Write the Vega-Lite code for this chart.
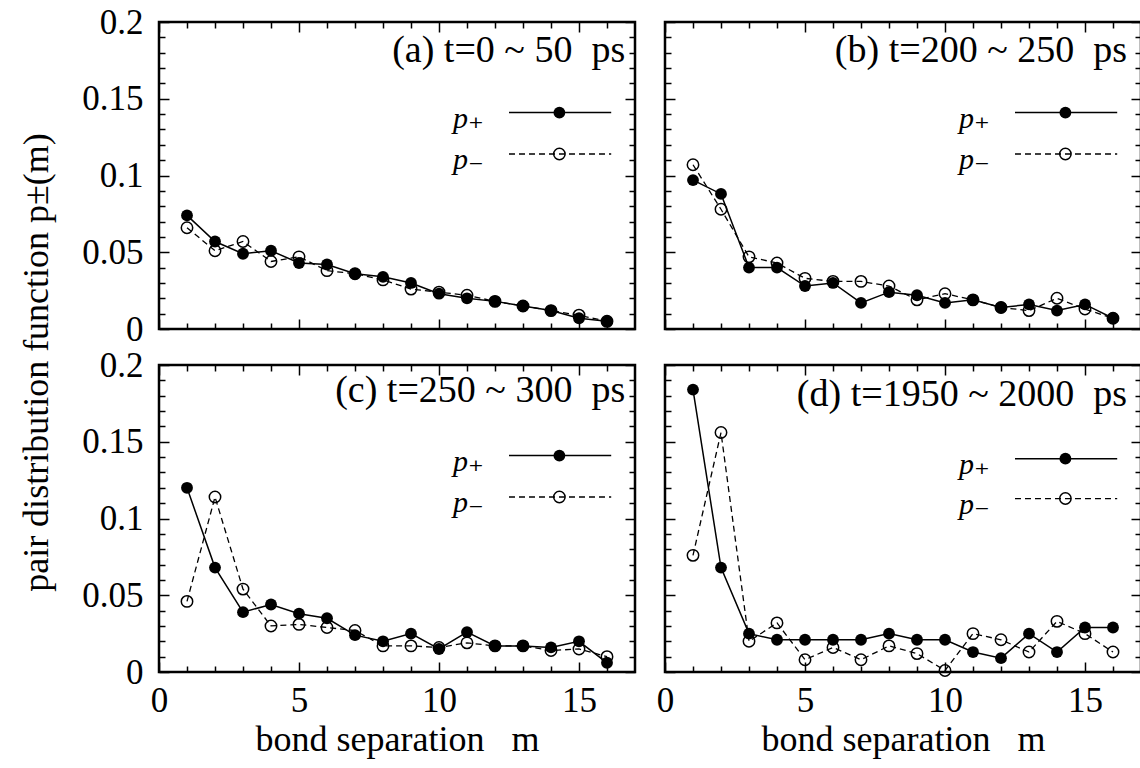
{
  "$schema": "https://vega.github.io/schema/vega-lite/v6.json",
  "padding": {"left": 16, "top": 3, "right": 0, "bottom": 0},
  "background": "white",
  "datasets": {
    "pdf": [
      {"panel":"a","m":1,"s":"+","p":0.074},{"panel":"a","m":2,"s":"+","p":0.057},{"panel":"a","m":3,"s":"+","p":0.049},{"panel":"a","m":4,"s":"+","p":0.051},
      {"panel":"a","m":5,"s":"+","p":0.043},{"panel":"a","m":6,"s":"+","p":0.042},{"panel":"a","m":7,"s":"+","p":0.036},{"panel":"a","m":8,"s":"+","p":0.034},
      {"panel":"a","m":9,"s":"+","p":0.030},{"panel":"a","m":10,"s":"+","p":0.023},{"panel":"a","m":11,"s":"+","p":0.020},{"panel":"a","m":12,"s":"+","p":0.018},
      {"panel":"a","m":13,"s":"+","p":0.015},{"panel":"a","m":14,"s":"+","p":0.012},{"panel":"a","m":15,"s":"+","p":0.007},{"panel":"a","m":16,"s":"+","p":0.005},
      {"panel":"a","m":1,"s":"-","p":0.066},{"panel":"a","m":2,"s":"-","p":0.051},{"panel":"a","m":3,"s":"-","p":0.057},{"panel":"a","m":4,"s":"-","p":0.044},
      {"panel":"a","m":5,"s":"-","p":0.047},{"panel":"a","m":6,"s":"-","p":0.038},{"panel":"a","m":7,"s":"-","p":0.036},{"panel":"a","m":8,"s":"-","p":0.032},
      {"panel":"a","m":9,"s":"-","p":0.026},{"panel":"a","m":10,"s":"-","p":0.024},{"panel":"a","m":11,"s":"-","p":0.022},{"panel":"a","m":12,"s":"-","p":0.018},
      {"panel":"a","m":13,"s":"-","p":0.015},{"panel":"a","m":14,"s":"-","p":0.012},{"panel":"a","m":15,"s":"-","p":0.009},{"panel":"a","m":16,"s":"-","p":0.005},
      {"panel":"b","m":1,"s":"+","p":0.097},{"panel":"b","m":2,"s":"+","p":0.088},{"panel":"b","m":3,"s":"+","p":0.040},{"panel":"b","m":4,"s":"+","p":0.040},
      {"panel":"b","m":5,"s":"+","p":0.028},{"panel":"b","m":6,"s":"+","p":0.030},{"panel":"b","m":7,"s":"+","p":0.017},{"panel":"b","m":8,"s":"+","p":0.024},
      {"panel":"b","m":9,"s":"+","p":0.022},{"panel":"b","m":10,"s":"+","p":0.017},{"panel":"b","m":11,"s":"+","p":0.019},{"panel":"b","m":12,"s":"+","p":0.014},
      {"panel":"b","m":13,"s":"+","p":0.016},{"panel":"b","m":14,"s":"+","p":0.012},{"panel":"b","m":15,"s":"+","p":0.016},{"panel":"b","m":16,"s":"+","p":0.007},
      {"panel":"b","m":1,"s":"-","p":0.107},{"panel":"b","m":2,"s":"-","p":0.078},{"panel":"b","m":3,"s":"-","p":0.047},{"panel":"b","m":4,"s":"-","p":0.043},
      {"panel":"b","m":5,"s":"-","p":0.033},{"panel":"b","m":6,"s":"-","p":0.031},{"panel":"b","m":7,"s":"-","p":0.031},{"panel":"b","m":8,"s":"-","p":0.028},
      {"panel":"b","m":9,"s":"-","p":0.019},{"panel":"b","m":10,"s":"-","p":0.023},{"panel":"b","m":11,"s":"-","p":0.019},{"panel":"b","m":12,"s":"-","p":0.014},
      {"panel":"b","m":13,"s":"-","p":0.012},{"panel":"b","m":14,"s":"-","p":0.020},{"panel":"b","m":15,"s":"-","p":0.013},{"panel":"b","m":16,"s":"-","p":0.007},
      {"panel":"c","m":1,"s":"+","p":0.120},{"panel":"c","m":2,"s":"+","p":0.068},{"panel":"c","m":3,"s":"+","p":0.039},{"panel":"c","m":4,"s":"+","p":0.044},
      {"panel":"c","m":5,"s":"+","p":0.038},{"panel":"c","m":6,"s":"+","p":0.035},{"panel":"c","m":7,"s":"+","p":0.024},{"panel":"c","m":8,"s":"+","p":0.020},
      {"panel":"c","m":9,"s":"+","p":0.025},{"panel":"c","m":10,"s":"+","p":0.015},{"panel":"c","m":11,"s":"+","p":0.026},{"panel":"c","m":12,"s":"+","p":0.017},
      {"panel":"c","m":13,"s":"+","p":0.017},{"panel":"c","m":14,"s":"+","p":0.016},{"panel":"c","m":15,"s":"+","p":0.020},{"panel":"c","m":16,"s":"+","p":0.006},
      {"panel":"c","m":1,"s":"-","p":0.046},{"panel":"c","m":2,"s":"-","p":0.114},{"panel":"c","m":3,"s":"-","p":0.054},{"panel":"c","m":4,"s":"-","p":0.030},
      {"panel":"c","m":5,"s":"-","p":0.031},{"panel":"c","m":6,"s":"-","p":0.029},{"panel":"c","m":7,"s":"-","p":0.027},{"panel":"c","m":8,"s":"-","p":0.017},
      {"panel":"c","m":9,"s":"-","p":0.017},{"panel":"c","m":10,"s":"-","p":0.016},{"panel":"c","m":11,"s":"-","p":0.019},{"panel":"c","m":12,"s":"-","p":0.017},
      {"panel":"c","m":13,"s":"-","p":0.017},{"panel":"c","m":14,"s":"-","p":0.014},{"panel":"c","m":15,"s":"-","p":0.015},{"panel":"c","m":16,"s":"-","p":0.010},
      {"panel":"d","m":1,"s":"+","p":0.184},{"panel":"d","m":2,"s":"+","p":0.068},{"panel":"d","m":3,"s":"+","p":0.025},{"panel":"d","m":4,"s":"+","p":0.021},
      {"panel":"d","m":5,"s":"+","p":0.021},{"panel":"d","m":6,"s":"+","p":0.021},{"panel":"d","m":7,"s":"+","p":0.021},{"panel":"d","m":8,"s":"+","p":0.025},
      {"panel":"d","m":9,"s":"+","p":0.021},{"panel":"d","m":10,"s":"+","p":0.021},{"panel":"d","m":11,"s":"+","p":0.013},{"panel":"d","m":12,"s":"+","p":0.009},
      {"panel":"d","m":13,"s":"+","p":0.025},{"panel":"d","m":14,"s":"+","p":0.013},{"panel":"d","m":15,"s":"+","p":0.029},{"panel":"d","m":16,"s":"+","p":0.029},
      {"panel":"d","m":1,"s":"-","p":0.076},{"panel":"d","m":2,"s":"-","p":0.156},{"panel":"d","m":3,"s":"-","p":0.020},{"panel":"d","m":4,"s":"-","p":0.032},
      {"panel":"d","m":5,"s":"-","p":0.008},{"panel":"d","m":6,"s":"-","p":0.016},{"panel":"d","m":7,"s":"-","p":0.008},{"panel":"d","m":8,"s":"-","p":0.017},
      {"panel":"d","m":9,"s":"-","p":0.012},{"panel":"d","m":10,"s":"-","p":0.001},{"panel":"d","m":11,"s":"-","p":0.025},{"panel":"d","m":12,"s":"-","p":0.021},
      {"panel":"d","m":13,"s":"-","p":0.013},{"panel":"d","m":14,"s":"-","p":0.033},{"panel":"d","m":15,"s":"-","p":0.025},{"panel":"d","m":16,"s":"-","p":0.013}
    ]
  },
  "columns": 2,
  "spacing": {"row": 36, "column": 30},
  "bounds": "flush",
  "concat": [
    {
      "width": 476, "height": 307,
      "resolve": {"axis": {"x": "independent", "y": "independent"}},
      "layer": [
        {"data": {"name": "pdf"}, "transform": [{"filter": "datum.panel == 'a' && datum.s == '+'"}],
         "mark": {"type": "line", "color": "black", "strokeWidth": 1.5},
         "encoding": {
           "x": {"field": "m", "type": "quantitative", "scale": {"domain": [0, 17], "nice": false, "zero": false},
                 "axis": {"orient": "bottom", "values": [0, 5, 10, 15], "tickSize": -10, "labels": false, "title": null}},
           "y": {"field": "p", "type": "quantitative", "scale": {"domain": [0, 0.2], "nice": false},
                 "axis": {"orient": "left", "values": [0, 0.05, 0.1, 0.15, 0.2], "tickSize": -10, "labelPadding": 26, "format": "~g",
                          "title": "pair distribution function  p±(m)", "titleX": -104, "titleY": 340, "titleAngle": 270, "titleAlign": "center", "titleBaseline": "bottom"}}}},
        {"data": {"name": "pdf"}, "transform": [{"filter": "datum.panel == 'a' && datum.s == '-'"}],
         "mark": {"type": "line", "color": "black", "strokeWidth": 1.3, "strokeDash": [6, 4]},
         "encoding": {
           "x": {"field": "m", "type": "quantitative", "axis": {"orient": "top", "values": [0, 5, 10, 15], "tickSize": -10, "labels": false, "title": null}},
           "y": {"field": "p", "type": "quantitative", "axis": {"orient": "right", "values": [0, 0.05, 0.1, 0.15, 0.2], "tickSize": -10, "labels": false, "title": null}}}},
        {"data": {"name": "pdf"}, "transform": [{"filter": "datum.panel == 'a' && datum.s == '+'"}],
         "mark": {"type": "point", "shape": "circle", "filled": true, "color": "black", "size": 140, "opacity": 1},
         "encoding": {
           "x": {"field": "m", "type": "quantitative", "axis": {"orient": "bottom", "values": [1,2,3,4,6,7,8,9,11,12,13,14,16], "tickSize": -6, "labels": false, "title": null}},
           "y": {"field": "p", "type": "quantitative", "axis": {"orient": "left", "values": [0.01,0.02,0.03,0.04,0.06,0.07,0.08,0.09,0.11,0.12,0.13,0.14,0.16,0.17,0.18,0.19], "tickSize": -6, "labels": false, "title": null}}}},
        {"data": {"name": "pdf"}, "transform": [{"filter": "datum.panel == 'a' && datum.s == '-'"}],
         "mark": {"type": "point", "shape": "circle", "filled": false, "color": "black", "strokeWidth": 1.5, "size": 130, "opacity": 1},
         "encoding": {
           "x": {"field": "m", "type": "quantitative", "axis": {"orient": "top", "values": [1,2,3,4,6,7,8,9,11,12,13,14,16], "tickSize": -6, "labels": false, "title": null}},
           "y": {"field": "p", "type": "quantitative", "axis": {"orient": "right", "values": [0.01,0.02,0.03,0.04,0.06,0.07,0.08,0.09,0.11,0.12,0.13,0.14,0.16,0.17,0.18,0.19], "tickSize": -6, "labels": false, "title": null}}}},
        {"data": {"values": [{}]}, "mark": {"type": "rule", "color": "black", "strokeWidth": 1.5},
         "encoding": {"x": {"datum": 12.5, "type": "quantitative", "axis": null}, "x2": {"datum": 16.15}, "y": {"datum": 0.141, "type": "quantitative", "axis": null}}},
        {"data": {"values": [{}]}, "mark": {"type": "point", "shape": "circle", "filled": true, "color": "black", "size": 140, "opacity": 1},
         "encoding": {"x": {"datum": 14.3, "type": "quantitative", "axis": null}, "y": {"datum": 0.141, "type": "quantitative", "axis": null}}},
        {"data": {"values": [{}]}, "mark": {"type": "text", "fontStyle": "italic", "fontSize": 30, "align": "right", "baseline": "middle", "dy": 6},
         "encoding": {"x": {"datum": 11.6, "type": "quantitative", "axis": null}, "y": {"datum": 0.141, "type": "quantitative", "axis": null}, "text": {"value": "p₊"}}},
        {"data": {"values": [{}]}, "mark": {"type": "rule", "color": "black", "strokeWidth": 1.3, "strokeDash": [6, 4]},
         "encoding": {"x": {"datum": 12.5, "type": "quantitative", "axis": null}, "x2": {"datum": 16.15}, "y": {"datum": 0.114, "type": "quantitative", "axis": null}}},
        {"data": {"values": [{}]}, "mark": {"type": "point", "shape": "circle", "filled": false, "color": "black", "strokeWidth": 1.5, "size": 130, "opacity": 1},
         "encoding": {"x": {"datum": 14.3, "type": "quantitative", "axis": null}, "y": {"datum": 0.114, "type": "quantitative", "axis": null}}},
        {"data": {"values": [{}]}, "mark": {"type": "text", "fontStyle": "italic", "fontSize": 30, "align": "right", "baseline": "middle", "dy": 6},
         "encoding": {"x": {"datum": 11.6, "type": "quantitative", "axis": null}, "y": {"datum": 0.114, "type": "quantitative", "axis": null}, "text": {"value": "p₋"}}},
        {"data": {"values": [{}]}, "mark": {"type": "text", "fontSize": 38, "align": "right", "baseline": "alphabetic"},
         "encoding": {"x": {"datum": 16.65, "type": "quantitative", "axis": null}, "y": {"datum": 0.174, "type": "quantitative", "axis": null}, "text": {"value": "(a) t=0 ~ 50\u00a0 ps"}}}
      ]
    },
    {
      "width": 476, "height": 307,
      "resolve": {"axis": {"x": "independent", "y": "independent"}},
      "layer": [
        {"data": {"name": "pdf"}, "transform": [{"filter": "datum.panel == 'b' && datum.s == '+'"}],
         "mark": {"type": "line", "color": "black", "strokeWidth": 1.5},
         "encoding": {
           "x": {"field": "m", "type": "quantitative", "scale": {"domain": [0, 17], "nice": false, "zero": false},
                 "axis": {"orient": "bottom", "values": [0, 5, 10, 15], "tickSize": -10, "labels": false, "title": null}},
           "y": {"field": "p", "type": "quantitative", "scale": {"domain": [0, 0.2], "nice": false},
                 "axis": {"orient": "left", "values": [0, 0.05, 0.1, 0.15, 0.2], "tickSize": -10, "labels": false, "title": null}}}},
        {"data": {"name": "pdf"}, "transform": [{"filter": "datum.panel == 'b' && datum.s == '-'"}],
         "mark": {"type": "line", "color": "black", "strokeWidth": 1.3, "strokeDash": [6, 4]},
         "encoding": {
           "x": {"field": "m", "type": "quantitative", "axis": {"orient": "top", "values": [0, 5, 10, 15], "tickSize": -10, "labels": false, "title": null}},
           "y": {"field": "p", "type": "quantitative", "axis": {"orient": "right", "values": [0, 0.05, 0.1, 0.15, 0.2], "tickSize": -10, "labels": false, "title": null}}}},
        {"data": {"name": "pdf"}, "transform": [{"filter": "datum.panel == 'b' && datum.s == '+'"}],
         "mark": {"type": "point", "shape": "circle", "filled": true, "color": "black", "size": 140, "opacity": 1},
         "encoding": {
           "x": {"field": "m", "type": "quantitative", "axis": {"orient": "bottom", "values": [1,2,3,4,6,7,8,9,11,12,13,14,16], "tickSize": -6, "labels": false, "title": null}},
           "y": {"field": "p", "type": "quantitative", "axis": {"orient": "left", "values": [0.01,0.02,0.03,0.04,0.06,0.07,0.08,0.09,0.11,0.12,0.13,0.14,0.16,0.17,0.18,0.19], "tickSize": -6, "labels": false, "title": null}}}},
        {"data": {"name": "pdf"}, "transform": [{"filter": "datum.panel == 'b' && datum.s == '-'"}],
         "mark": {"type": "point", "shape": "circle", "filled": false, "color": "black", "strokeWidth": 1.5, "size": 130, "opacity": 1},
         "encoding": {
           "x": {"field": "m", "type": "quantitative", "axis": {"orient": "top", "values": [1,2,3,4,6,7,8,9,11,12,13,14,16], "tickSize": -6, "labels": false, "title": null}},
           "y": {"field": "p", "type": "quantitative", "axis": {"orient": "right", "values": [0.01,0.02,0.03,0.04,0.06,0.07,0.08,0.09,0.11,0.12,0.13,0.14,0.16,0.17,0.18,0.19], "tickSize": -6, "labels": false, "title": null}}}},
        {"data": {"values": [{}]}, "mark": {"type": "rule", "color": "black", "strokeWidth": 1.5},
         "encoding": {"x": {"datum": 12.5, "type": "quantitative", "axis": null}, "x2": {"datum": 16.15}, "y": {"datum": 0.141, "type": "quantitative", "axis": null}}},
        {"data": {"values": [{}]}, "mark": {"type": "point", "shape": "circle", "filled": true, "color": "black", "size": 140, "opacity": 1},
         "encoding": {"x": {"datum": 14.3, "type": "quantitative", "axis": null}, "y": {"datum": 0.141, "type": "quantitative", "axis": null}}},
        {"data": {"values": [{}]}, "mark": {"type": "text", "fontStyle": "italic", "fontSize": 30, "align": "right", "baseline": "middle", "dy": 6},
         "encoding": {"x": {"datum": 11.6, "type": "quantitative", "axis": null}, "y": {"datum": 0.141, "type": "quantitative", "axis": null}, "text": {"value": "p₊"}}},
        {"data": {"values": [{}]}, "mark": {"type": "rule", "color": "black", "strokeWidth": 1.3, "strokeDash": [6, 4]},
         "encoding": {"x": {"datum": 12.5, "type": "quantitative", "axis": null}, "x2": {"datum": 16.15}, "y": {"datum": 0.114, "type": "quantitative", "axis": null}}},
        {"data": {"values": [{}]}, "mark": {"type": "point", "shape": "circle", "filled": false, "color": "black", "strokeWidth": 1.5, "size": 130, "opacity": 1},
         "encoding": {"x": {"datum": 14.3, "type": "quantitative", "axis": null}, "y": {"datum": 0.114, "type": "quantitative", "axis": null}}},
        {"data": {"values": [{}]}, "mark": {"type": "text", "fontStyle": "italic", "fontSize": 30, "align": "right", "baseline": "middle", "dy": 6},
         "encoding": {"x": {"datum": 11.6, "type": "quantitative", "axis": null}, "y": {"datum": 0.114, "type": "quantitative", "axis": null}, "text": {"value": "p₋"}}},
        {"data": {"values": [{}]}, "mark": {"type": "text", "fontSize": 38, "align": "right", "baseline": "alphabetic"},
         "encoding": {"x": {"datum": 16.5, "type": "quantitative", "axis": null}, "y": {"datum": 0.174, "type": "quantitative", "axis": null}, "text": {"value": "(b) t=200 ~ 250\u00a0 ps"}}}
      ]
    },
    {
      "width": 476, "height": 307,
      "resolve": {"axis": {"x": "independent", "y": "independent"}},
      "layer": [
        {"data": {"name": "pdf"}, "transform": [{"filter": "datum.panel == 'c' && datum.s == '+'"}],
         "mark": {"type": "line", "color": "black", "strokeWidth": 1.5},
         "encoding": {
           "x": {"field": "m", "type": "quantitative", "scale": {"domain": [0, 17], "nice": false, "zero": false},
                 "axis": {"orient": "bottom", "values": [0, 5, 10, 15], "tickSize": -10, "labelPadding": 21, "title": "bond separation\u00a0\u00a0 m", "titlePadding": 4}},
           "y": {"field": "p", "type": "quantitative", "scale": {"domain": [0, 0.2], "nice": false},
                 "axis": {"orient": "left", "values": [0, 0.05, 0.1, 0.15, 0.2], "tickSize": -10, "labelPadding": 26, "format": "~g", "title": null}}}},
        {"data": {"name": "pdf"}, "transform": [{"filter": "datum.panel == 'c' && datum.s == '-'"}],
         "mark": {"type": "line", "color": "black", "strokeWidth": 1.3, "strokeDash": [6, 4]},
         "encoding": {
           "x": {"field": "m", "type": "quantitative", "axis": {"orient": "top", "values": [0, 5, 10, 15], "tickSize": -10, "labels": false, "title": null}},
           "y": {"field": "p", "type": "quantitative", "axis": {"orient": "right", "values": [0, 0.05, 0.1, 0.15, 0.2], "tickSize": -10, "labels": false, "title": null}}}},
        {"data": {"name": "pdf"}, "transform": [{"filter": "datum.panel == 'c' && datum.s == '+'"}],
         "mark": {"type": "point", "shape": "circle", "filled": true, "color": "black", "size": 140, "opacity": 1},
         "encoding": {
           "x": {"field": "m", "type": "quantitative", "axis": {"orient": "bottom", "values": [1,2,3,4,6,7,8,9,11,12,13,14,16], "tickSize": -6, "labels": false, "title": null}},
           "y": {"field": "p", "type": "quantitative", "axis": {"orient": "left", "values": [0.01,0.02,0.03,0.04,0.06,0.07,0.08,0.09,0.11,0.12,0.13,0.14,0.16,0.17,0.18,0.19], "tickSize": -6, "labels": false, "title": null}}}},
        {"data": {"name": "pdf"}, "transform": [{"filter": "datum.panel == 'c' && datum.s == '-'"}],
         "mark": {"type": "point", "shape": "circle", "filled": false, "color": "black", "strokeWidth": 1.5, "size": 130, "opacity": 1},
         "encoding": {
           "x": {"field": "m", "type": "quantitative", "axis": {"orient": "top", "values": [1,2,3,4,6,7,8,9,11,12,13,14,16], "tickSize": -6, "labels": false, "title": null}},
           "y": {"field": "p", "type": "quantitative", "axis": {"orient": "right", "values": [0.01,0.02,0.03,0.04,0.06,0.07,0.08,0.09,0.11,0.12,0.13,0.14,0.16,0.17,0.18,0.19], "tickSize": -6, "labels": false, "title": null}}}},
        {"data": {"values": [{}]}, "mark": {"type": "rule", "color": "black", "strokeWidth": 1.5},
         "encoding": {"x": {"datum": 12.5, "type": "quantitative", "axis": null}, "x2": {"datum": 16.15}, "y": {"datum": 0.141, "type": "quantitative", "axis": null}}},
        {"data": {"values": [{}]}, "mark": {"type": "point", "shape": "circle", "filled": true, "color": "black", "size": 140, "opacity": 1},
         "encoding": {"x": {"datum": 14.3, "type": "quantitative", "axis": null}, "y": {"datum": 0.141, "type": "quantitative", "axis": null}}},
        {"data": {"values": [{}]}, "mark": {"type": "text", "fontStyle": "italic", "fontSize": 30, "align": "right", "baseline": "middle", "dy": 6},
         "encoding": {"x": {"datum": 11.6, "type": "quantitative", "axis": null}, "y": {"datum": 0.141, "type": "quantitative", "axis": null}, "text": {"value": "p₊"}}},
        {"data": {"values": [{}]}, "mark": {"type": "rule", "color": "black", "strokeWidth": 1.3, "strokeDash": [6, 4]},
         "encoding": {"x": {"datum": 12.5, "type": "quantitative", "axis": null}, "x2": {"datum": 16.15}, "y": {"datum": 0.114, "type": "quantitative", "axis": null}}},
        {"data": {"values": [{}]}, "mark": {"type": "point", "shape": "circle", "filled": false, "color": "black", "strokeWidth": 1.5, "size": 130, "opacity": 1},
         "encoding": {"x": {"datum": 14.3, "type": "quantitative", "axis": null}, "y": {"datum": 0.114, "type": "quantitative", "axis": null}}},
        {"data": {"values": [{}]}, "mark": {"type": "text", "fontStyle": "italic", "fontSize": 30, "align": "right", "baseline": "middle", "dy": 6},
         "encoding": {"x": {"datum": 11.6, "type": "quantitative", "axis": null}, "y": {"datum": 0.114, "type": "quantitative", "axis": null}, "text": {"value": "p₋"}}},
        {"data": {"values": [{}]}, "mark": {"type": "text", "fontSize": 38, "align": "right", "baseline": "alphabetic"},
         "encoding": {"x": {"datum": 16.65, "type": "quantitative", "axis": null}, "y": {"datum": 0.176, "type": "quantitative", "axis": null}, "text": {"value": "(c) t=250 ~ 300\u00a0 ps"}}}
      ]
    },
    {
      "width": 476, "height": 307,
      "resolve": {"axis": {"x": "independent", "y": "independent"}},
      "layer": [
        {"data": {"name": "pdf"}, "transform": [{"filter": "datum.panel == 'd' && datum.s == '+'"}],
         "mark": {"type": "line", "color": "black", "strokeWidth": 1.5},
         "encoding": {
           "x": {"field": "m", "type": "quantitative", "scale": {"domain": [0, 17], "nice": false, "zero": false},
                 "axis": {"orient": "bottom", "values": [0, 5, 10, 15], "tickSize": -10, "labelPadding": 21, "title": "bond separation\u00a0\u00a0 m", "titlePadding": 4}},
           "y": {"field": "p", "type": "quantitative", "scale": {"domain": [0, 0.2], "nice": false},
                 "axis": {"orient": "left", "values": [0, 0.05, 0.1, 0.15, 0.2], "tickSize": -10, "labels": false, "title": null}}}},
        {"data": {"name": "pdf"}, "transform": [{"filter": "datum.panel == 'd' && datum.s == '-'"}],
         "mark": {"type": "line", "color": "black", "strokeWidth": 1.3, "strokeDash": [6, 4]},
         "encoding": {
           "x": {"field": "m", "type": "quantitative", "axis": {"orient": "top", "values": [0, 5, 10, 15], "tickSize": -10, "labels": false, "title": null}},
           "y": {"field": "p", "type": "quantitative", "axis": {"orient": "right", "values": [0, 0.05, 0.1, 0.15, 0.2], "tickSize": -10, "labels": false, "title": null}}}},
        {"data": {"name": "pdf"}, "transform": [{"filter": "datum.panel == 'd' && datum.s == '+'"}],
         "mark": {"type": "point", "shape": "circle", "filled": true, "color": "black", "size": 140, "opacity": 1},
         "encoding": {
           "x": {"field": "m", "type": "quantitative", "axis": {"orient": "bottom", "values": [1,2,3,4,6,7,8,9,11,12,13,14,16], "tickSize": -6, "labels": false, "title": null}},
           "y": {"field": "p", "type": "quantitative", "axis": {"orient": "left", "values": [0.01,0.02,0.03,0.04,0.06,0.07,0.08,0.09,0.11,0.12,0.13,0.14,0.16,0.17,0.18,0.19], "tickSize": -6, "labels": false, "title": null}}}},
        {"data": {"name": "pdf"}, "transform": [{"filter": "datum.panel == 'd' && datum.s == '-'"}],
         "mark": {"type": "point", "shape": "circle", "filled": false, "color": "black", "strokeWidth": 1.5, "size": 130, "opacity": 1},
         "encoding": {
           "x": {"field": "m", "type": "quantitative", "axis": {"orient": "top", "values": [1,2,3,4,6,7,8,9,11,12,13,14,16], "tickSize": -6, "labels": false, "title": null}},
           "y": {"field": "p", "type": "quantitative", "axis": {"orient": "right", "values": [0.01,0.02,0.03,0.04,0.06,0.07,0.08,0.09,0.11,0.12,0.13,0.14,0.16,0.17,0.18,0.19], "tickSize": -6, "labels": false, "title": null}}}},
        {"data": {"values": [{}]}, "mark": {"type": "rule", "color": "black", "strokeWidth": 1.5},
         "encoding": {"x": {"datum": 12.5, "type": "quantitative", "axis": null}, "x2": {"datum": 16.15}, "y": {"datum": 0.139, "type": "quantitative", "axis": null}}},
        {"data": {"values": [{}]}, "mark": {"type": "point", "shape": "circle", "filled": true, "color": "black", "size": 140, "opacity": 1},
         "encoding": {"x": {"datum": 14.3, "type": "quantitative", "axis": null}, "y": {"datum": 0.139, "type": "quantitative", "axis": null}}},
        {"data": {"values": [{}]}, "mark": {"type": "text", "fontStyle": "italic", "fontSize": 30, "align": "right", "baseline": "middle", "dy": 6},
         "encoding": {"x": {"datum": 11.6, "type": "quantitative", "axis": null}, "y": {"datum": 0.139, "type": "quantitative", "axis": null}, "text": {"value": "p₊"}}},
        {"data": {"values": [{}]}, "mark": {"type": "rule", "color": "black", "strokeWidth": 1.3, "strokeDash": [6, 4]},
         "encoding": {"x": {"datum": 12.5, "type": "quantitative", "axis": null}, "x2": {"datum": 16.15}, "y": {"datum": 0.113, "type": "quantitative", "axis": null}}},
        {"data": {"values": [{}]}, "mark": {"type": "point", "shape": "circle", "filled": false, "color": "black", "strokeWidth": 1.5, "size": 130, "opacity": 1},
         "encoding": {"x": {"datum": 14.3, "type": "quantitative", "axis": null}, "y": {"datum": 0.113, "type": "quantitative", "axis": null}}},
        {"data": {"values": [{}]}, "mark": {"type": "text", "fontStyle": "italic", "fontSize": 30, "align": "right", "baseline": "middle", "dy": 6},
         "encoding": {"x": {"datum": 11.6, "type": "quantitative", "axis": null}, "y": {"datum": 0.113, "type": "quantitative", "axis": null}, "text": {"value": "p₋"}}},
        {"data": {"values": [{}]}, "mark": {"type": "text", "fontSize": 38, "align": "right", "baseline": "alphabetic"},
         "encoding": {"x": {"datum": 16.5, "type": "quantitative", "axis": null}, "y": {"datum": 0.173, "type": "quantitative", "axis": null}, "text": {"value": "(d) t=1950 ~ 2000\u00a0 ps"}}}
      ]
    }
  ],
  "config": {
    "font": "Liberation Serif, DejaVu Serif, serif",
    "view": {"stroke": "black", "strokeWidth": 2.5},
    "axis": {"domain": false, "grid": false, "tickColor": "black", "tickWidth": 1.5,
             "labelFont": "Liberation Serif, DejaVu Serif, serif", "labelFontSize": 35, "labelColor": "black", "labelFlush": false, "labelOverlap": false,
             "titleFont": "Liberation Serif, DejaVu Serif, serif", "titleFontSize": 36, "titleFontWeight": "normal", "titleColor": "black"},
    "text": {"font": "Liberation Serif, DejaVu Serif, serif", "color": "black"}
  }
}
